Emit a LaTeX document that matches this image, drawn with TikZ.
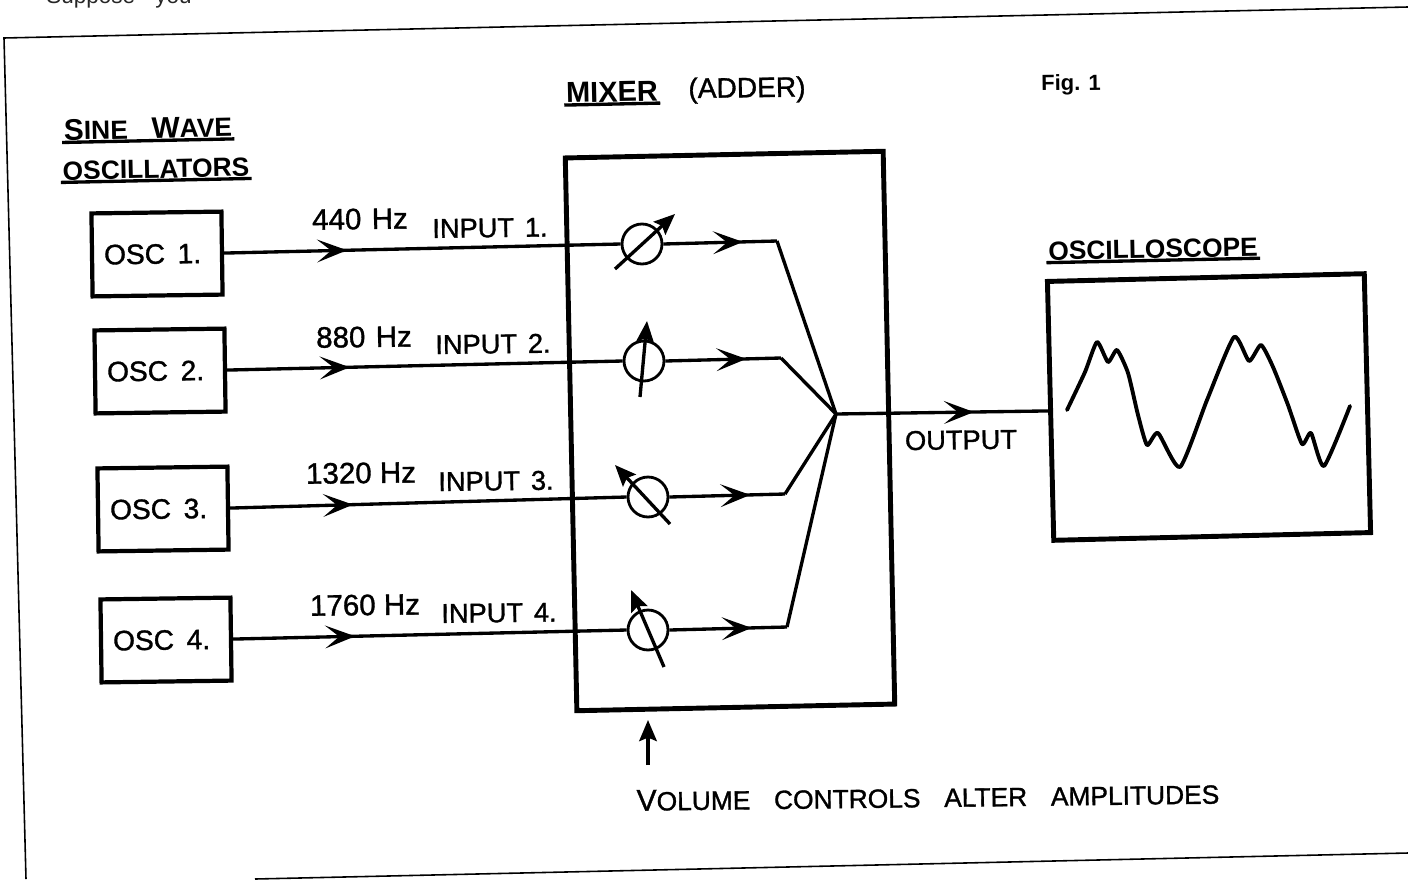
\documentclass[tikz,border=0pt]{standalone}
\usepackage{fontspec}
\setmainfont{Liberation Sans}
\newfontfamily\medfont[FakeBold=1.2]{Liberation Sans}
\usetikzlibrary{arrows.meta,decorations.markings}
\newcommand{\capl}[1]{{\fontsize{17}{22}\selectfont #1}}
\tikzset{
    label text/.style={inner sep=1pt, rotate=0.7, font=\medfont\fontsize{15.5}{18}\selectfont},
    freq text/.style={inner sep=1pt, rotate=0.7, font=\medfont\fontsize{16.8}{20}\selectfont},
    head text/.style={inner sep=1pt, rotate=1.2, font=\bfseries\fontsize{15}{18}\selectfont},
    oscbox/.style={draw, line width=2.4pt, rotate=0.8, minimum width=2.6cm, minimum height=1.66cm, font=\medfont\fontsize{16}{18}\selectfont},
    bigbox/.style={draw, line width=2.8pt},
    potcirc/.style={circle, draw, line width=1.6pt, minimum size=0.8cm, inner sep=0pt},
    wire/.style={line width=1.9pt, line join=miter},
    potarrow/.style={line width=1.9pt, -{Stealth[length=12pt,width=10pt,inset=2pt]}},
    rule/.style={line width=1.9pt},
    frame/.style={line width=0.9pt},
    midarrow/.style={postaction={decorate}, decoration={markings, mark=at position #1 with {\arrow{Stealth[length=17pt,width=13pt,inset=8pt]}}}}
}
\begin{document}
\begin{tikzpicture}[x=0.02cm, y=-0.02cm]
    \useasboundingbox (0,0) rectangle (1408,879);
    \coordinate (FA) at (4,38);
    \coordinate (FB) at (1408,7);
    \coordinate (FC) at (26,879);
    \coordinate (FD) at (255,879);
    \coordinate (FE) at (1408,853);
    \draw[frame] (FB) -- (FA) -- (FC);
    \draw[frame] (FD) -- (FE);
    \path node[anchor=base west, inner sep=0pt, font=\fontsize{12.8}{14}\selectfont, text=black!85] (topline) at (46,3.5) {Suppose\hspace{0.9em}you}
        node[oscbox] (OSCA) at (157,254) {\hspace{-5pt}OSC\hspace{0.45em}1.}
        node[oscbox] (OSCB) at (160,371) {\hspace{-5pt}OSC\hspace{0.45em}2.}
        node[oscbox] (OSCC) at (163,509) {\hspace{-5pt}OSC\hspace{0.45em}3.}
        node[oscbox] (OSCD) at (166,640) {\hspace{-5pt}OSC\hspace{0.45em}4.}
        node[bigbox, rotate=1.2, minimum width=6.36cm, minimum height=11.06cm] (MIX) at (730,431) {}
        node[bigbox, rotate=1.4, minimum width=6.34cm, minimum height=5.18cm] (SCOPE) at (1209,407) {}
        node[potcirc] (POTA) at (642,244) {}
        node[potcirc] (POTB) at (644,361) {}
        node[potcirc] (POTC) at (648,497) {}
        node[potcirc] (POTD) at (648,630) {};
    \coordinate (CA) at (777,241);
    \coordinate (CB) at (781,358);
    \coordinate (CC) at (785,494);
    \coordinate (CD) at (787,627);
    \coordinate (SUM) at (836,414);
    \draw[wire, midarrow=0.31] (OSCA.east) -- (POTA.west);
    \draw[wire, midarrow=0.31] (OSCB.east) -- (POTB.west);
    \draw[wire, midarrow=0.31] (OSCC.east) -- (POTC.west);
    \draw[wire, midarrow=0.31] (OSCD.east) -- (POTD.west);
    \draw[wire, midarrow=0.7] (POTA.east) -- (CA);
    \draw[wire, midarrow=0.7] (POTB.east) -- (CB);
    \draw[wire, midarrow=0.7] (POTC.east) -- (CC);
    \draw[wire, midarrow=0.7] (POTD.east) -- (CD);
    \draw[wire] (CA) -- (SUM);
    \draw[wire] (CB) -- (SUM);
    \draw[wire] (CC) -- (SUM);
    \draw[wire] (CD) -- (SUM);
    \draw[wire, midarrow=0.65] (SUM) -- (SCOPE.west);
    \coordinate (TAA) at (615,269);
    \coordinate (TAB) at (675,214);
    \coordinate (TBA) at (640,397);
    \coordinate (TBB) at (647,321);
    \coordinate (TCA) at (670,524);
    \coordinate (TCB) at (615,465);
    \coordinate (TDA) at (664,667);
    \coordinate (TDB) at (631,590);
    \draw[potarrow] (TAA) -- (TAB);
    \draw[potarrow] (TBA) -- (TBB);
    \draw[potarrow] (TCA) -- (TCB);
    \draw[potarrow] (TDA) -- (TDB);
    \coordinate (VA) at (648,765);
    \coordinate (VB) at (648,720);
    \draw[potarrow] (VA) -- (VB);
    \path node[freq text] (FA1) at (360,219) {440\hspace{0.35em}Hz}
        node[freq text] (FB1) at (364,337) {880\hspace{0.35em}Hz}
        node[freq text] (FC1) at (361,473) {1320 Hz}
        node[freq text] (FD1) at (365,605) {1760 Hz}
        node[label text] (INA) at (490,228) {INPUT\hspace{0.4em}1.}
        node[label text] (INB) at (493,344) {INPUT\hspace{0.4em}2.}
        node[label text] (INC) at (496,481) {INPUT\hspace{0.4em}3.}
        node[label text] (IND) at (499,613) {INPUT\hspace{0.4em}4.}
        node[label text] (OUT) at (961,440) {OUTPUT}
        node[label text, font=\medfont\fontsize{16}{18}\selectfont] (ADD) at (747,90) {(ADDER)}
        node[label text, font=\bfseries\fontsize{12.5}{14}\selectfont] (FIG) at (1071,85) {Fig. 1}
        node[label text, font=\medfont\fontsize{15}{18}\selectfont] (VOL) at (928,797) {\capl{V}OLUME\hspace{0.9em}CONTROLS\hspace{0.9em}ALTER\hspace{0.9em}AMPLITUDES}
        node[head text, font=\bfseries\fontsize{16.5}{18}\selectfont] (MIXT) at (612,92) {MIXER}
        node[head text] (SCOPET) at (1153,249) {OSCILLOSCOPE}
        node[head text] (SINE) at (148,128) {\capl{S}INE\hspace{0.9em}\capl{W}AVE}
        node[head text] (OSCT) at (156,169) {OSCILLATORS};
    \draw[rule] (MIXT.south west) -- (MIXT.south east);
    \draw[rule] (SCOPET.south west) -- (SCOPET.south east);
    \draw[rule] (SINE.south west) -- (SINE.south east);
    \draw[rule] (OSCT.south west) -- (OSCT.south east);
    \draw[line width=2.2pt, line join=round, line cap=round] plot[smooth, tension=0.35] coordinates {(1067,410) (1085,372) (1097,342) (1108,362) (1117,350) (1128,373) (1138,415) (1147,445) (1158,433) (1180,467) (1207,400) (1234,337) (1249,361) (1261,345) (1273,367) (1288,405) (1302,444) (1311,433) (1324,466) (1350,406)};
\end{tikzpicture}
\end{document}
